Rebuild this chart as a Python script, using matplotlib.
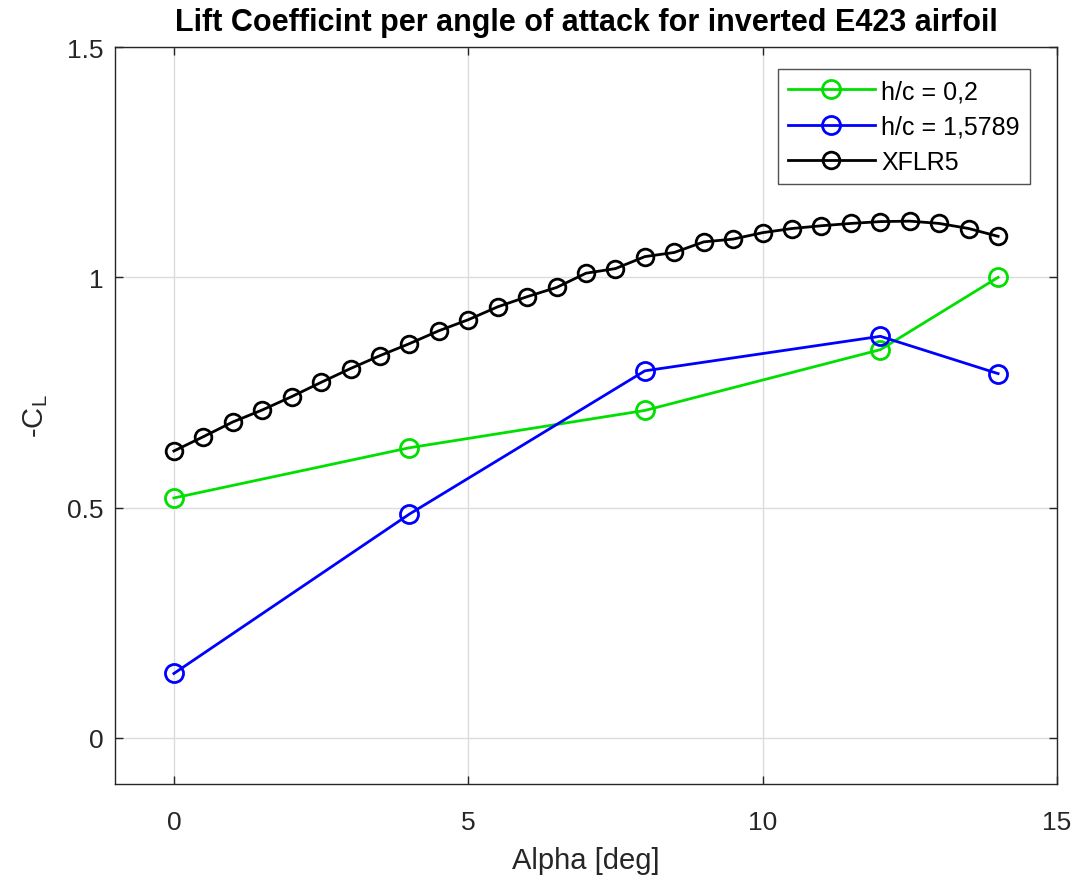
import matplotlib
matplotlib.use('Agg')
import matplotlib.pyplot as plt

plt.rcParams['font.family'] = ['Liberation Sans', 'DejaVu Sans']
plt.rcParams['mathtext.default'] = 'regular'

# measured lift coefficients at two ground heights
alpha_exp = [0, 4, 8, 12, 14]
cl_h02 = [0.521, 0.630, 0.711, 0.843, 1.000]
cl_h15789 = [0.140, 0.486, 0.797, 0.872, 0.791]

# XFLR5 polar, 0.5 deg steps
alpha_xflr = [0, 0.5, 1, 1.5, 2, 2.5, 3, 3.5, 4, 4.5, 5, 5.5, 6, 6.5, 7,
              7.5, 8, 8.5, 9, 9.5, 10, 10.5, 11, 11.5, 12, 12.5, 13, 13.5, 14]
cl_xflr = [0.623, 0.654, 0.686, 0.712, 0.741, 0.772, 0.802, 0.830, 0.856,
           0.884, 0.908, 0.936, 0.958, 0.978, 1.009, 1.019, 1.045, 1.054,
           1.077, 1.083, 1.097, 1.106, 1.112, 1.117, 1.121, 1.122, 1.117,
           1.106, 1.089]

fig = plt.figure(figsize=(10.78, 8.78), dpi=100)
ax = fig.add_axes([0.1067, 0.1059, 0.8738, 0.8394])

ax.plot(alpha_exp, cl_h02, color='#00e000', lw=2, marker='o', ms=13,
        mfc='none', mew=2, label='h/c = 0,2')
ax.plot(alpha_exp, cl_h15789, color='#0000ff', lw=2, marker='o', ms=13,
        mfc='none', mew=2, label='h/c = 1,5789')
ax.plot(alpha_xflr, cl_xflr, color='black', lw=2, marker='o', ms=12,
        mfc='none', mew=2, label='XFLR5')

ax.set_xlim(-1, 15)
ax.set_ylim(-0.1, 1.5)
ax.set_xticks([0, 5, 10, 15])
ax.set_yticks([0, 0.5, 1, 1.5])
ax.set_yticklabels(['0', '0.5', '1', '1.5'])
ax.grid(True, color='#dcdcdc', lw=1)
ax.set_axisbelow(True)
ax.tick_params(direction='in', top=True, right=True, length=6, width=1,
               labelsize=19, colors='#262626')
ax.tick_params(axis='x', pad=18.5)
ax.tick_params(axis='y', pad=8.5)
for s in ax.spines.values():
    s.set_color('#262626')
    s.set_linewidth(1)

ax.set_xlabel('Alpha [deg]', fontsize=21, color='#262626', labelpad=9)
ax.set_ylabel('-C$_L$', fontsize=21, color='#262626', labelpad=12)
ax.set_title('Lift Coefficint per angle of attack for inverted E423 airfoil',
             fontsize=22, fontweight='bold', pad=12.5)

leg = ax.legend(loc='upper right', bbox_to_anchor=(0.9713, 0.970),
                borderaxespad=0, fontsize=18, frameon=True, fancybox=False,
                edgecolor='#262626', handlelength=3.5, labelspacing=0.45,
                handletextpad=0.25, borderpad=0.4)
leg.get_frame().set_linewidth(1)

fig.savefig('out.png', dpi=100, facecolor='white')
